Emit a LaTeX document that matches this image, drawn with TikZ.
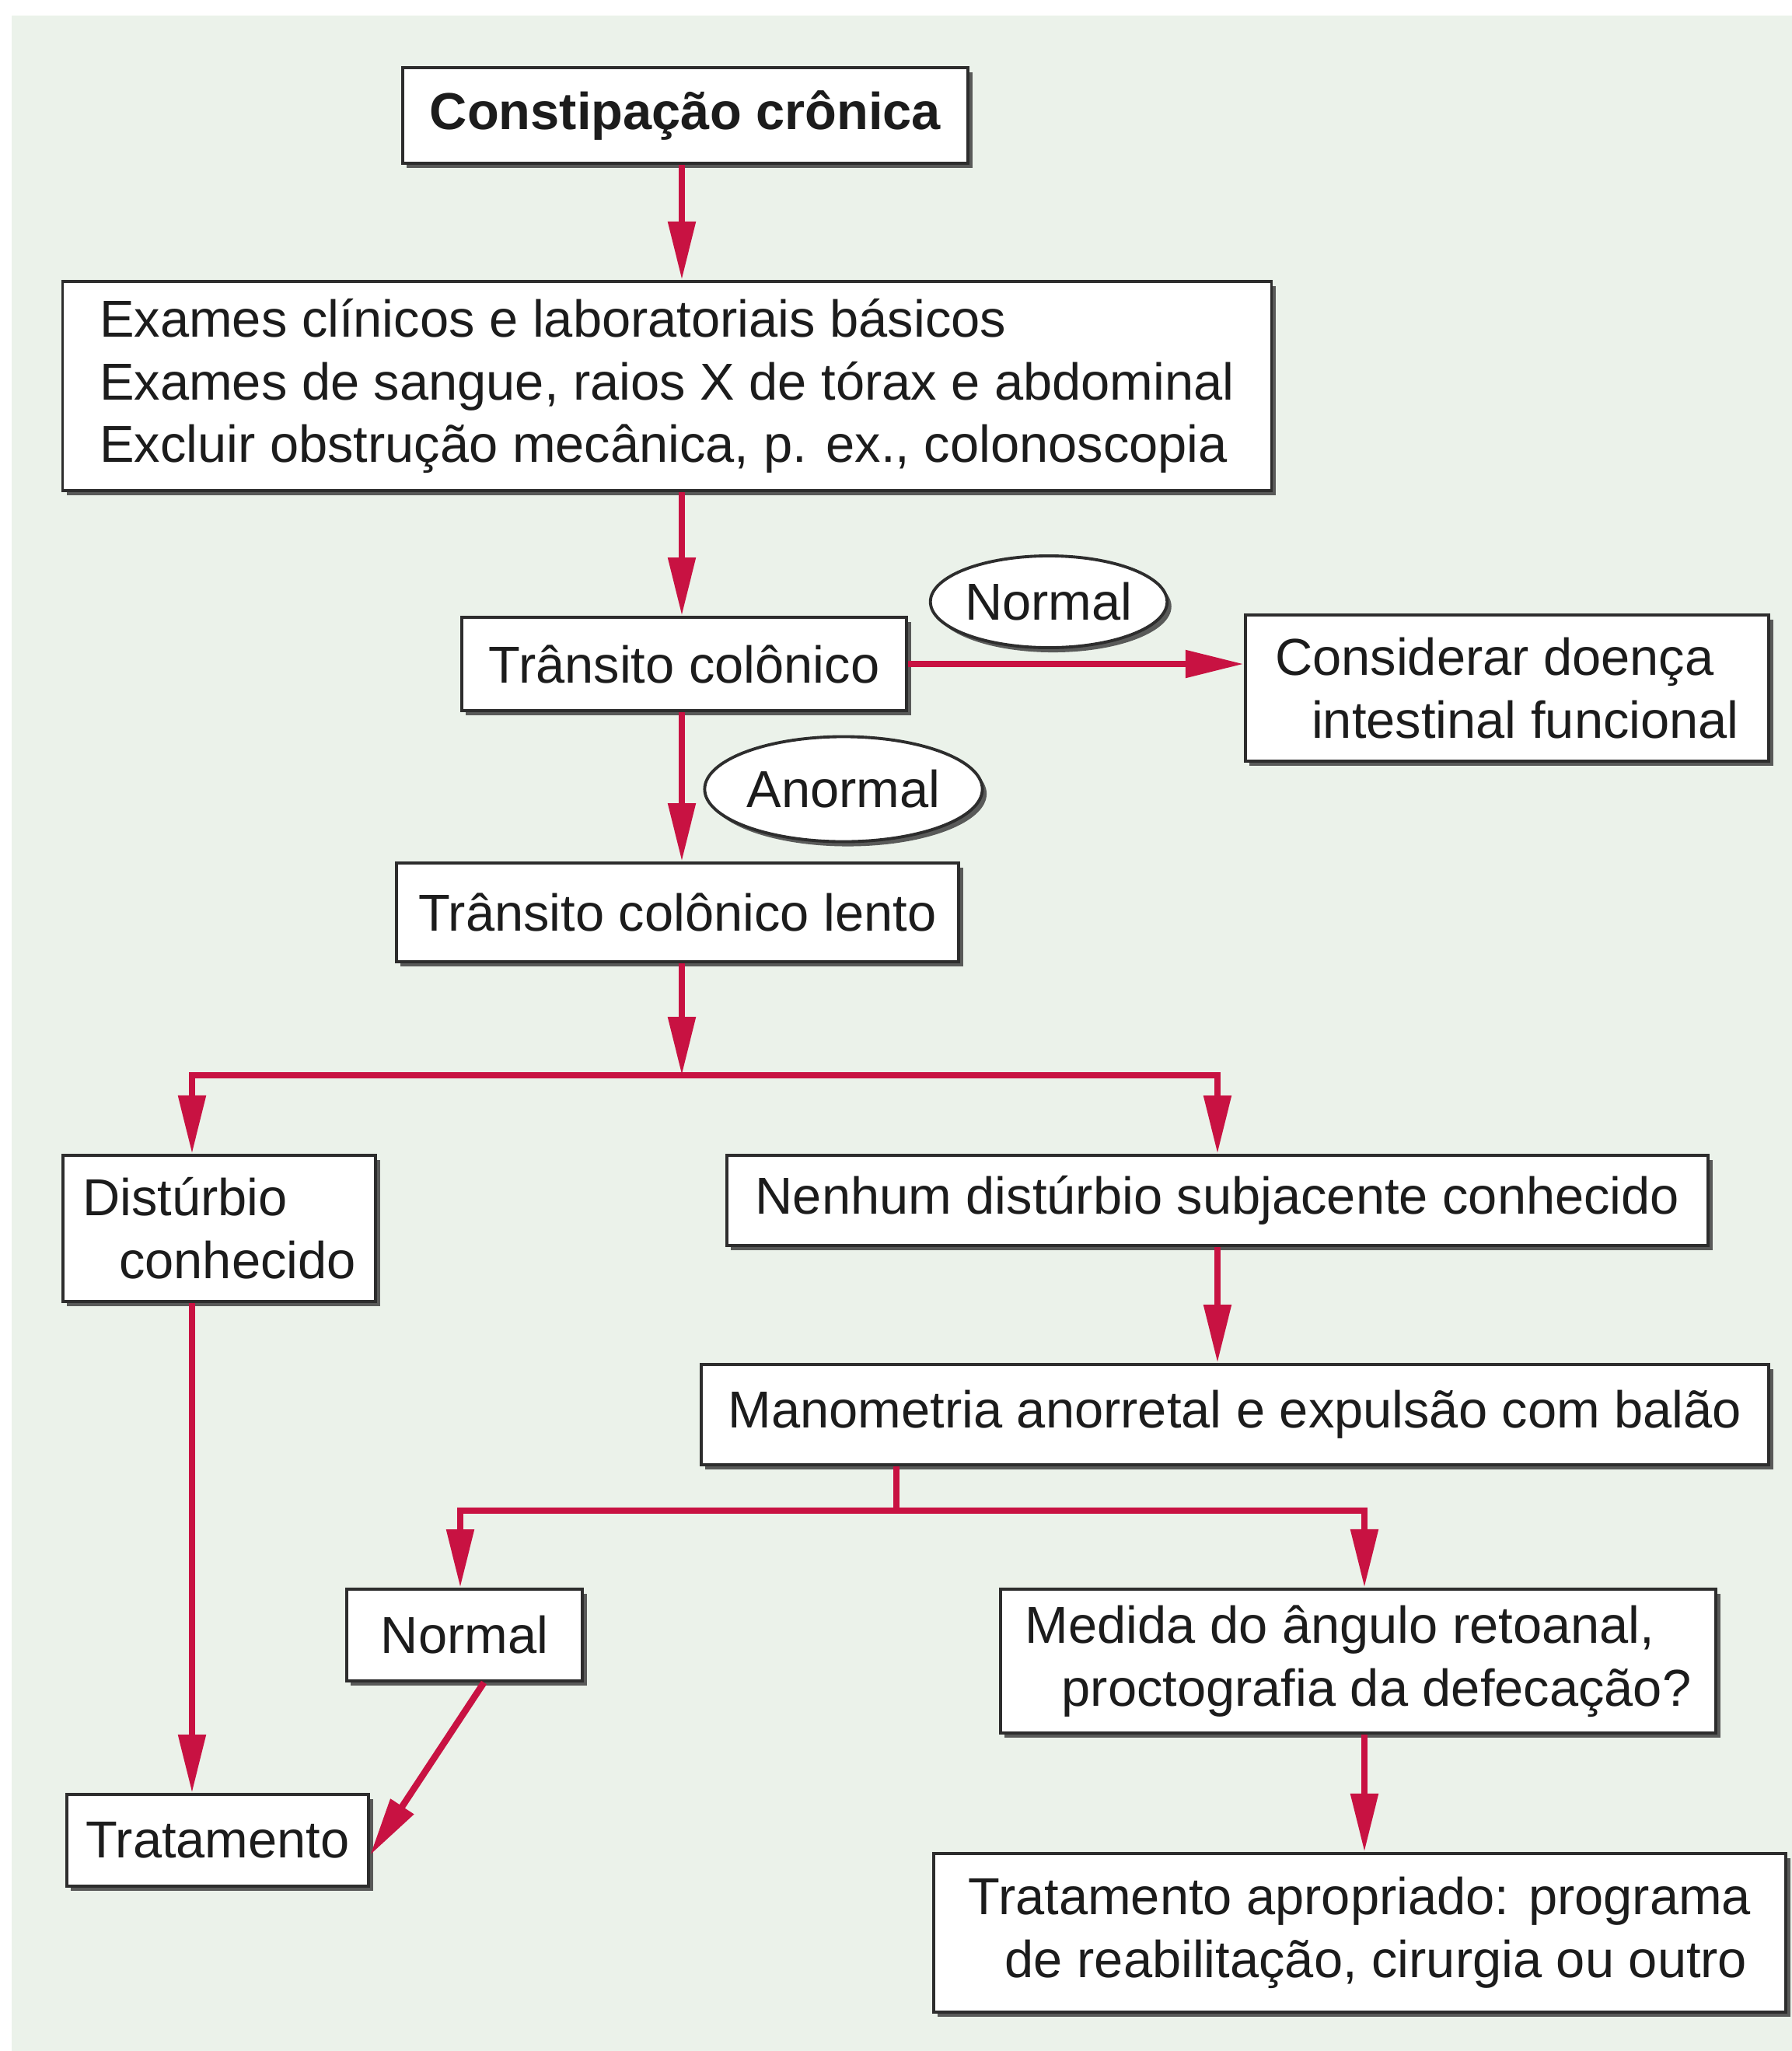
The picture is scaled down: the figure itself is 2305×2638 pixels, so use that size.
\documentclass[tikz,border=0pt]{standalone}
\usepackage{fontspec}
\setmainfont{Liberation Sans}
\usetikzlibrary{shapes.geometric,shadows,arrows.meta}

\definecolor{paper}{RGB}{235,242,234}
\definecolor{flowred}{RGB}{200,18,66}
\definecolor{ink}{RGB}{28,28,28}
\definecolor{edge}{RGB}{45,45,45}

\tikzset{
  boxshadow/.style={drop shadow={shadow xshift=0.055cm, shadow yshift=-0.06cm, fill=black!75, opacity=0.85}},
  stepbox/.style={draw=edge, line width=1.1pt, fill=white, boxshadow, text=ink,
    inner sep=0pt, align=left, font=\fontsize{19pt}{23pt}\selectfont},
  tag/.style={ellipse, draw=edge, line width=1.1pt, fill=white, boxshadow, text=ink,
    inner sep=0pt, font=\fontsize{19pt}{23pt}\selectfont},
  flow/.style={draw=flowred, line width=2.4pt, -{Triangle[length=7.5mm,width=3.4mm]}},
  link/.style={draw=flowred, line width=2.4pt},
}
\newcommand{\indentline}{\hspace*{0.47cm}}

\begin{document}
\begin{tikzpicture}[x=0.01cm, y=-0.01cm]
  \useasboundingbox (0,0) rectangle (2305,2638);
  \fill[white] (0,0) rectangle (2305,2638);
  \fill[paper] (15,20) rectangle (2305,2638);

  % boxes
  \node[stepbox, minimum width=7.27cm, minimum height=1.23cm, font=\fontsize{19pt}{23pt}\selectfont\bfseries]
    (title) at (881.5,148.5) {Constipação crônica};
  \node[stepbox, minimum width=15.54cm, minimum height=2.69cm] (exams) at (858,496.5)
    {Exames clínicos e laboratoriais básicos\\
     Exames de sangue, raios X de tórax e abdominal\\
     Excluir obstrução mecânica, p. ex., colonoscopia};
  \node[stepbox, minimum width=5.72cm, minimum height=1.2cm] (transit) at (880,854) {Trânsito colônico};
  \node[tag, minimum width=2.96cm, minimum height=1.18cm] (normA) at (1349,774) {Normal};
  \node[stepbox, minimum width=6.73cm, minimum height=1.88cm] (consider) at (1938.5,885)
    {Considerar doença\\ \indentline intestinal funcional};
  \node[tag, minimum width=3.57cm, minimum height=1.35cm] (abnorm) at (1085,1015) {Anormal};
  \node[stepbox, minimum width=7.23cm, minimum height=1.27cm] (slow) at (871.5,1173.5) {Trânsito colônico lento};
  \node[stepbox, minimum width=4.02cm, minimum height=1.88cm] (known) at (282,1580)
    {Distúrbio\\ \indentline conhecido};
  \node[stepbox, minimum width=12.62cm, minimum height=1.16cm] (none) at (1566,1544)
    {Nenhum distúrbio subjacente conhecido};
  \node[stepbox, minimum width=13.73cm, minimum height=1.29cm] (mano) at (1588.5,1819.5)
    {Manometria anorretal e expulsão com balão};
  \node[stepbox, minimum width=3.03cm, minimum height=1.18cm] (normB) at (597.5,2103) {Normal};
  \node[stepbox, minimum width=9.2cm, minimum height=1.85cm] (measure) at (1747,2136.5)
    {Medida do ângulo retoanal,\\ \indentline proctografia da defecação?};
  \node[stepbox, minimum width=3.88cm, minimum height=1.18cm] (treat) at (280,2367) {Tratamento};
  \node[stepbox, minimum width=10.96cm, minimum height=2.04cm] (therapy) at (1749,2486)
    {Tratamento apropriado: programa\\ \indentline de reabilitação, cirurgia ou outro};

  % branching points
  \coordinate (split) at (877,1383);
  \coordinate (fork) at (1153,1943);

  % connectors
  \draw[flow] ([xshift=-0.045cm]title.south) -- ([xshift=-0.045cm]title.south |- exams.north);
  \draw[flow] ([xshift=-0.03cm]transit.north |- exams.south) -- ([xshift=-0.03cm]transit.north);
  \draw[flow] (transit.east) -- (transit.east -| consider.west);
  \draw[flow] ([xshift=-0.03cm]transit.south) -- ([xshift=-0.03cm]transit.south |- slow.north);
  \draw[flow] (split |- slow.south) -- (split);
  \draw[flow, rounded corners=0pt] (split) -| ([xshift=-0.35cm]known.north);
  \draw[flow] (split) -| (none.north);
  \draw[flow] (none.south) -- (none.south |- mano.north);
  \draw[link] (fork |- mano.south) -- (fork);
  \draw[flow] (fork) -| ([xshift=-0.055cm]normB.north);
  \draw[flow] (fork) -| ([xshift=0.08cm]measure.north);
  \draw[flow] ([xshift=-0.35cm]known.south) -- ([xshift=-0.35cm]known.south |- treat.north);
  \draw[flow] ([xshift=0.25cm]normB.south) -- ([yshift=-0.19cm]treat.east);
  \draw[flow] ([xshift=0.08cm]measure.south) -- ([xshift=0.08cm]measure.south |- therapy.north);
\end{tikzpicture}
\end{document}
